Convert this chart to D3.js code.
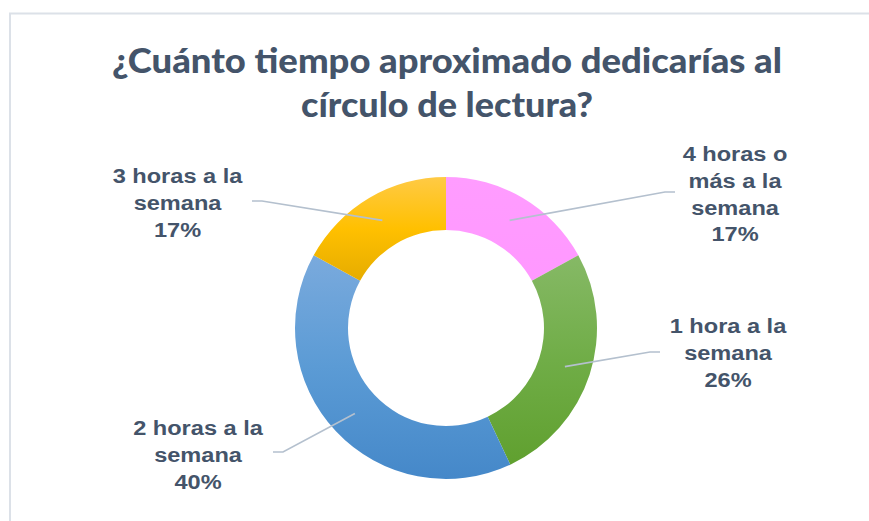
<!DOCTYPE html>
<html>
<head>
<meta charset="utf-8">
<script src="https://cdn.jsdelivr.net/npm/d3@7"></script>
<style>
  html, body { margin: 0; padding: 0; background: #fff; }
  svg { display: block; }
</style>
</head>
<body>
<svg id="chart" width="869" height="521"></svg>
<script>
// data
const categories = ['4 horas o más a la semana', '1 hora a la semana', '2 horas a la semana', '3 horas a la semana'];
const values = [17, 26, 40, 17];
const labelLines = [
  ['4 horas o', 'más a la', 'semana'],
  ['1 hora a la', 'semana'],
  ['2 horas a la', 'semana'],
  ['3 horas a la', 'semana']
];
const titleLines = ['¿Cuánto tiempo aproximado dedicarías al', 'círculo de lectura?'];

// colours: [top, middle, bottom] for each slice gradient
const sliceColors = [
  ['#FF9CFF', '#FF9AFF', '#FF98FF'],
  ['#86B966', '#70AD47', '#60A02F'],
  ['#7AAADD', '#5B9BD5', '#4588C9'],
  ['#FFCA45', '#FFC000', '#E6AC00']
];

// label layout (centre x, first baseline, where the leader line ends, which side)
const labelPos = [
  { x: 735, y: 161, ex: 675, ey: 192, dir: -1 },
  { x: 728, y: 333, ex: 660, ey: 352, dir: -1 },
  { x: 198, y: 435, ex: 273, ey: 452, dir: 1 },
  { x: 177.5, y: 183, ex: 252, ey: 201, dir: 1 }
];

const svg = d3.select('#chart');
const cx = 446, cy = 328;
const outerR = 151, innerR = 98;
const textColor = '#44546A';

// chart frame
svg.append('rect')
  .attr('x', 10).attr('y', 13.5)
  .attr('width', 900).attr('height', 560)
  .attr('fill', '#fff')
  .attr('stroke', '#DCE1E8')
  .attr('stroke-width', 2);

// title
const titleWidths = [670, 292];
const titleBase = [73, 117];
svg.append('g').selectAll('text')
  .data(titleLines)
  .join('text')
  .attr('x', 447)
  .attr('y', (d, i) => titleBase[i])
  .attr('text-anchor', 'middle')
  .attr('textLength', (d, i) => titleWidths[i])
  .attr('lengthAdjust', 'spacingAndGlyphs')
  .style('font-family', 'Lato, "Open Sans", sans-serif')
  .style('font-weight', 900)
  .style('font-size', '34px')
  .attr('fill', textColor)
  .text(d => d);

// gradients
const defs = svg.append('defs');
sliceColors.forEach((c, i) => {
  const g = defs.append('linearGradient')
    .attr('id', 'grad' + i)
    .attr('x1', 0).attr('y1', 0).attr('x2', 0).attr('y2', 1);
  g.append('stop').attr('offset', '0%').attr('stop-color', c[0]);
  g.append('stop').attr('offset', '50%').attr('stop-color', c[1]);
  g.append('stop').attr('offset', '100%').attr('stop-color', c[2]);
});

// donut
const pie = d3.pie().sort(null).value(d => d);
const arcs = pie(values);
const arc = d3.arc().innerRadius(innerR).outerRadius(outerR);
const midArc = d3.arc().innerRadius(innerR + 2).outerRadius(outerR - 1);

const chart = svg.append('g').attr('transform', `translate(${cx},${cy})`);
chart.selectAll('path.slice')
  .data(arcs)
  .join('path')
  .attr('class', 'slice')
  .attr('d', arc)
  .attr('fill', (d, i) => `url(#grad${i})`);

// leader lines
const total = d3.sum(values);
const pct = d3.format('.0%');
chart.selectAll('polyline.leader')
  .data(arcs)
  .join('polyline')
  .attr('class', 'leader')
  .attr('points', (d, i) => {
    const [sx, sy] = midArc.centroid(d);
    const p = labelPos[i];
    const ex = p.ex - cx, ey = p.ey - cy;
    return [[sx, sy], [ex + p.dir * 10, ey], [ex, ey]].map(q => q.join(',')).join(' ');
  })
  .attr('fill', 'none')
  .attr('stroke', '#B4C0CE')
  .attr('stroke-width', 1.6);

// labels
const lineH = 26.8;
const labels = svg.append('g').selectAll('g.label')
  .data(arcs)
  .join('g')
  .attr('class', 'label')
  .attr('transform', (d, i) => `translate(${labelPos[i].x},${labelPos[i].y}) scale(1.15,1)`);

labels.each(function (d, i) {
  const lines = labelLines[i].concat([pct(values[i] / total)]);
  d3.select(this).selectAll('text')
    .data(lines)
    .join('text')
    .attr('x', 0)
    .attr('y', (t, j) => j * lineH)
    .attr('text-anchor', 'middle')
    .style('font-family', '"Liberation Sans", Arial, sans-serif')
    .style('font-weight', 700)
    .style('font-size', '20.5px')
    .attr('fill', textColor)
    .text(t => t);
});
</script>
</body>
</html>
